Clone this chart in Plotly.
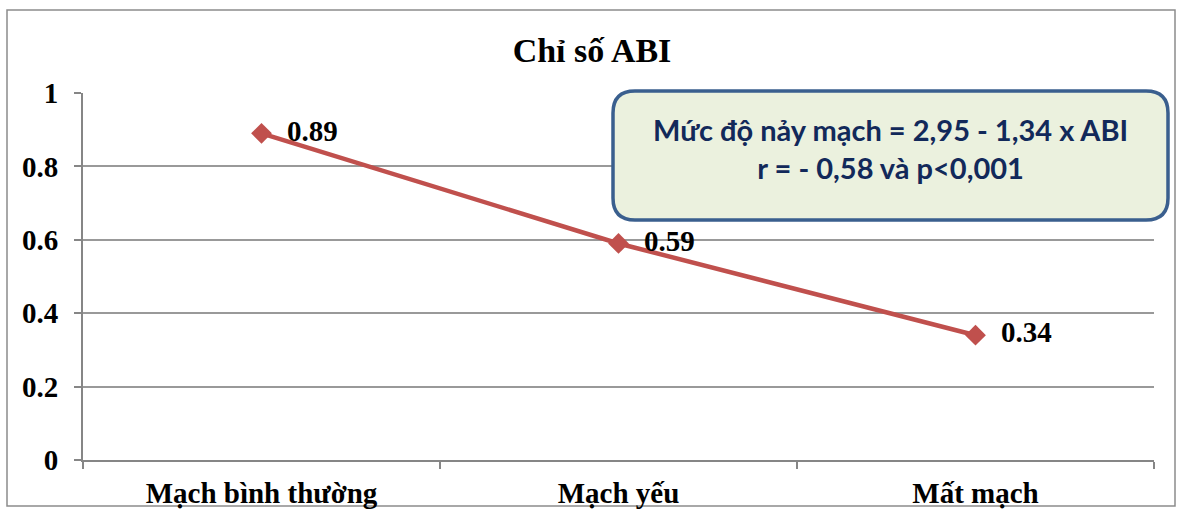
import plotly.graph_objects as go

categories = ["Mạch bình thường", "Mạch yếu", "Mất mạch"]
abi_values = [0.89, 0.59, 0.34]
value_labels = ["0.89", "0.59", "0.34"]
y_tick_vals = [0, 0.2, 0.4, 0.6, 0.8, 1]
y_tick_text = ["0", "0.2", "0.4", "0.6", "0.8", "1"]

W, H = 1179, 509
L, R, T, B = 83, 25, 93, 49
pw, ph = W - L - R, H - T - B

def px(x):
    return (x - L) / pw

def py(y):
    return (H - B - y) / ph

def rounded_rect(x0, y0, x1, y1, r):
    X0, X1 = px(x0), px(x1)
    Y0, Y1 = py(y0), py(y1)
    rx, ry = r / pw, r / ph
    return (f"M {X0+rx},{Y0} L {X1-rx},{Y0} Q {X1},{Y0} {X1},{Y0-ry} "
            f"L {X1},{Y1+ry} Q {X1},{Y1} {X1-rx},{Y1} "
            f"L {X0+rx},{Y1} Q {X0},{Y1} {X0},{Y1+ry} "
            f"L {X0},{Y0-ry} Q {X0},{Y0} {X0+rx},{Y0} Z")

serif = "Liberation Serif, Times New Roman, serif"

fig = go.Figure()
fig.add_trace(go.Scatter(
    x=categories, y=abi_values, mode="lines+markers+text",
    line=dict(color="#C0504D", width=4.5),
    marker=dict(symbol="diamond", size=16, color="#C0504D"),
    text=value_labels, textposition="middle right",
    texttemplate="\u00a0\u00a0<b>%{text}</b>",
    textfont=dict(family=serif, size=29, color="black"),
    cliponaxis=False, showlegend=False,
))

fig.update_layout(
    width=W, height=H,
    margin=dict(l=L, r=R, t=T, b=B),
    paper_bgcolor="white", plot_bgcolor="white",
    title=dict(text="<b>Chỉ số ABI</b>", xref="container", x=592 / W,
               xanchor="center", y=1 - 50 / H, yanchor="middle",
               font=dict(family=serif, size=34, color="black")),
    xaxis=dict(range=[-0.5, 2.5], showgrid=False, showline=True,
               linecolor="#868686", linewidth=2, ticks="outside",
               tickson="boundaries", ticklen=7, tickcolor="#868686",
               tickwidth=1.5, tickfont=dict(family=serif, size=29, color="black"),
               tickvals=categories, ticktext=[f"<b>{c}</b>" for c in categories],
               ticklabelstandoff=6, zeroline=False, automargin=False),
    yaxis=dict(range=[0, 1], tickvals=y_tick_vals,
               ticktext=[f"<b>{t}</b>" for t in y_tick_text],
               showgrid=True, gridcolor="#999999", gridwidth=1.5,
               showline=True, linecolor="#868686", linewidth=2,
               ticks="outside", ticklen=7, tickcolor="#868686", tickwidth=1.5,
               tickfont=dict(family=serif, size=29, color="black"),
               ticklabelstandoff=10, zeroline=False, automargin=False),
    font=dict(family=serif),
)

# outer chart border
fig.add_shape(type="rect", xref="paper", yref="paper",
              x0=px(7), x1=px(1175), y0=py(506), y1=py(10),
              line=dict(color="#8C8C8C", width=1.5), fillcolor="rgba(0,0,0,0)",
              layer="below")

# rounded callout box
fig.add_shape(type="path", xref="paper", yref="paper",
              path=rounded_rect(613, 91, 1168, 220, 22),
              line=dict(color="#3A5F8E", width=3.5), fillcolor="#EBF1DE")
fig.add_annotation(xref="paper", yref="paper", x=px(890), y=py(148),
                   xanchor="center", yanchor="middle",
                   text="<b>Mức độ nảy mạch = 2,95 - 1,34 x ABI<br>r = - 0,58 và p<0,001</b>",
                   showarrow=False, align="center",
                   font=dict(family="Lato, sans-serif", size=29, color="#12295A"))

fig.write_html("out.html", config={"displayModeBar": False},
               post_script="document.body.style.margin='0';")
